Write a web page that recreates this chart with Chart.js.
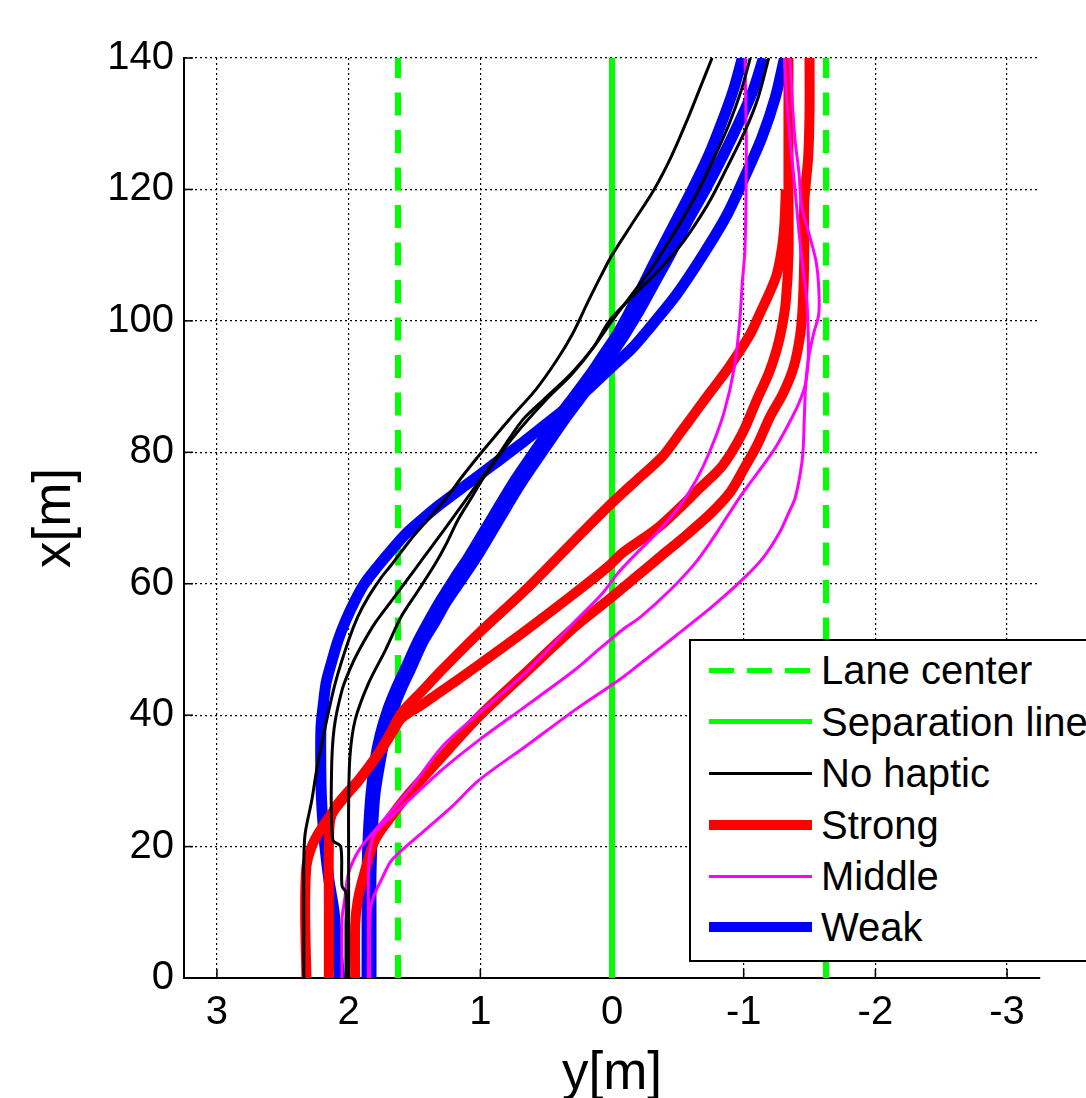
<!DOCTYPE html>
<html>
<head>
<meta charset="utf-8">
<title>Lateral position</title>
<script src="https://cdn.jsdelivr.net/npm/chart.js@4/dist/chart.umd.min.js"></script>
<style>
html, body { margin: 0; padding: 0; overflow: hidden; background: #fff; }
#wrap { position: relative; width: 1086px; height: 1098px; }
#legend { position: absolute; left: 689px; top: 639px; width: 440px; height: 323px; box-sizing: border-box;
  border: 2px solid #000; background: #fff; font-family: 'Liberation Sans', Arial, sans-serif; font-size: 40px; color: #000; }
#legend .row { position: absolute; left: 0; width: 100%; height: 50px; line-height: 50px; white-space: nowrap; }
#legend .sample { position: absolute; left: 18px; width: 103px; }
#legend .label { position: absolute; left: 130px; top: 0; }
</style>
</head>
<body>
<div id="wrap">
  <canvas id="chart" width="1086" height="1098"></canvas>
  <div id="legend"></div>
</div>
<script>
// each point: [distance x (m), lateral position y (m)]
const noHaptic1 = [[0,2.34],[10,2.34],[18,2.34],[22,2.33],[27,2.28],[32,2.24],[38,2.18],[45,2.1],[51.4,2.0],[55,1.93],[58,1.85],[61,1.75],[63,1.67],[66.7,1.53],[69.7,1.4],[73,1.26],[76.5,1.13],[80,0.99],[85,0.78],[89.5,0.58],[94,0.42],[98,0.3],[103,0.18],[107,0.08],[110,0.0],[115,-0.16],[120,-0.32],[125,-0.45],[131,-0.58],[135,-0.66],[140,-0.76]];
const noHaptic2 = [[0,2.02],[8,2.02],[13,2.02],[14,2.05],[20,2.06],[21,2.12],[31,2.13],[38,2.11],[43.8,2.05],[47,1.99],[49.9,1.92],[54,1.8],[57.5,1.67],[61,1.54],[64,1.43],[66.7,1.33],[69.7,1.22],[75,1.03],[80,0.85],[84.9,0.68],[88,0.52],[92,0.31],[96,0.14],[100,0.0],[104,-0.15],[108,-0.3],[112,-0.43],[116,-0.55],[120,-0.66],[125,-0.78],[130,-0.89],[135,-0.98],[140,-1.05]];
const noHaptic3 = [[0,2.0],[10,2.0],[20,2.0],[26,2.0],[33.7,1.99],[39.3,1.95],[44.8,1.85],[49.9,1.72],[55,1.6],[59,1.47],[63.1,1.34],[66,1.26],[69.7,1.17],[73,1.07],[76,0.98],[80,0.84],[84,0.68],[88,0.5],[92,0.3],[96,0.14],[100,0.02],[104,-0.17],[108,-0.37],[111.5,-0.52],[114.6,-0.63],[118.5,-0.75],[123.2,-0.87],[128.9,-1.01],[134,-1.11],[140,-1.19]];

const strong1 = [[0,2.15],[10,2.15],[20,2.15],[24,2.14],[26,2.1],[28,2.02],[30,1.93],[34,1.78],[37,1.69],[40.3,1.6],[43.5,1.45],[46.9,1.29],[52.5,1.01],[59,0.66],[66.7,0.28],[72.3,0.0],[76,-0.2],[79.3,-0.38],[83,-0.52],[86,-0.63],[89.5,-0.76],[93,-0.89],[98,-1.05],[101,-1.12],[104,-1.19],[107,-1.25],[111,-1.29],[115,-1.31],[120,-1.32]];
const strong2 = [[0,2.32],[10,2.33],[17,2.32],[20,2.28],[22,2.23],[25,2.13],[28,2.01],[30.1,1.92],[34.2,1.77],[37.3,1.67],[39.5,1.6],[41.5,1.45],[43.3,1.32],[47.4,1.03],[52.5,0.68],[58.6,0.28],[62.6,0.03],[64.7,-0.08],[68.7,-0.36],[74.8,-0.68],[78,-0.84],[82.9,-0.99],[88,-1.1],[92,-1.19],[95.6,-1.25],[99,-1.29],[103,-1.32],[110,-1.34],[120,-1.34],[130,-1.34],[140,-1.34]];
const strong3 = [[0,1.95],[8,1.95],[11.9,1.93],[16,1.88],[21,1.8],[24.5,1.68],[28.1,1.54],[33.7,1.29],[39.8,1.01],[46.4,0.66],[53.5,0.28],[57.5,0.03],[61,-0.18],[64,-0.36],[67.5,-0.57],[70.7,-0.75],[74,-0.9],[77.8,-1.01],[81,-1.1],[85.4,-1.2],[89,-1.3],[93,-1.38],[98,-1.43],[103,-1.45],[110,-1.46],[118,-1.46],[125,-1.49],[132,-1.5],[140,-1.5]];

const middle1 = [[0,2.05],[9,2.05],[11.9,2.03],[16,2.0],[19.5,1.92],[22.5,1.8],[28.6,1.54],[35.2,1.29],[40.3,1.01],[46.4,0.66],[50.5,0.46],[54.5,0.27],[58.6,0.07],[61.5,-0.04],[64.5,-0.18],[67.7,-0.34],[72,-0.52],[75.8,-0.64],[80,-0.74],[86,-0.85],[93,-0.93],[100,-0.97],[106,-0.99],[111,-1.01],[126,-1.02],[140,-1.01]];
const middle2 = [[0,1.85],[10,1.85],[15,1.85],[19,1.84],[22,1.8],[24.5,1.68],[27.1,1.54],[31.7,1.29],[36.2,1.01],[41.3,0.66],[46.9,0.28],[50,0.1],[53,-0.08],[55,-0.22],[59,-0.44],[63.1,-0.63],[67,-0.77],[70.7,-0.89],[74,-1.0],[77.8,-1.14],[81,-1.25],[85.4,-1.37],[88,-1.43],[90.5,-1.47],[94,-1.49],[98,-1.49],[103,-1.48],[108,-1.45],[113.5,-1.42],[120,-1.39],[126,-1.36],[133,-1.33],[140,-1.31]];
const middle3 = [[0,1.84],[8,1.84],[11,1.83],[12.9,1.8],[15,1.75],[18,1.67],[22.5,1.42],[26,1.22],[30.1,1.01],[35.2,0.66],[40.8,0.28],[45.3,-0.05],[48.4,-0.25],[52,-0.48],[56.5,-0.76],[61,-1.01],[64,-1.15],[67.7,-1.27],[70.7,-1.34],[73,-1.39],[76.8,-1.43],[80,-1.45],[85,-1.46],[90,-1.47],[94,-1.49],[98,-1.53],[101,-1.57],[105,-1.57],[109,-1.55],[113,-1.5],[117.4,-1.44],[122.5,-1.42],[127.5,-1.39],[133,-1.37],[140,-1.35]];

const weak1 = [[0,2.07],[5,2.09],[10,2.11],[15,2.15],[20,2.18],[25,2.2],[30,2.21],[38,2.21],[42,2.19],[45,2.17],[48,2.13],[51.4,2.08],[54.5,2.02],[57.5,1.95],[60,1.88],[62.6,1.78],[65,1.68],[67.7,1.56],[70,1.43],[72,1.31],[75,1.11],[78,0.91],[81,0.71],[84,0.52],[87,0.33],[90,0.16],[93,0.0],[96,-0.16],[100,-0.33],[104,-0.49],[110,-0.69],[116,-0.87],[122,-1.01],[128,-1.14],[134,-1.24],[140,-1.31]];
const weak2 = [[0,1.86],[10,1.86],[16,1.86],[22,1.85],[28,1.83],[33,1.8],[37,1.76],[41,1.7],[44,1.64],[47,1.57],[51,1.48],[54,1.4],[57.5,1.3],[61,1.19],[64,1.09],[68,0.97],[71.7,0.86],[75,0.76],[78,0.66],[81.5,0.54],[85,0.42],[88.5,0.29],[92,0.16],[95,0.06],[98,-0.04],[102,-0.15],[106,-0.25],[110,-0.35],[115,-0.48],[120,-0.61],[125,-0.73],[130,-0.83],[135,-0.92],[140,-0.99]];
const weak3 = [[0,1.83],[10,1.83],[16,1.83],[22,1.82],[28,1.8],[33,1.76],[37,1.72],[41,1.66],[44,1.6],[47,1.53],[51,1.44],[54,1.35],[57.5,1.25],[61,1.13],[64,1.03],[68,0.91],[71.7,0.8],[75,0.7],[78,0.6],[81.5,0.48],[85,0.36],[88.5,0.23],[92,0.1],[95,0.0],[98,-0.1],[102,-0.22],[106,-0.33],[110,-0.44],[115,-0.57],[120,-0.71],[125,-0.84],[130,-0.96],[135,-1.07],[140,-1.15]];

const laneCenters = [1.625, -1.625];
const separationLine = 0;
const distanceRange = [0, 140];
const legendLabels = ['Lane center', 'Separation line', 'No haptic', 'Strong', 'Middle', 'Weak'];

const GREEN = '#00ff00';
const styles = {
  'Lane center':     { color: GREEN, width: 6, dash: [23, 14.5], order: 5 },
  'Separation line': { color: GREEN, width: 6, dash: [], order: 5 },
  'No haptic':       { color: '#000000', width: 3, dash: [], order: 1 },
  'Strong':          { color: '#ff0000', width: 10, dash: [], order: 3 },
  'Middle':          { color: '#ff00ff', width: 3, dash: [], order: 2 },
  'Weak':            { color: '#0000ff', width: 11, dash: [], order: 4 }
};

Chart.defaults.font.family = "'Liberation Sans', Arial, sans-serif";
Chart.defaults.color = '#000';

function track(points, name) {
  var s = styles[name];
  return {
    label: name,
    data: points.map(p => ({ x: p[1], y: p[0] })),
    borderColor: s.color,
    borderWidth: s.width,
    borderDash: s.dash,
    order: s.order,
    showLine: true,
    pointRadius: 0,
    tension: points.length > 2 ? 0.3 : 0,
    fill: false
  };
}

function guide(offset, name) {
  return track(distanceRange.map(d => [d, offset]), name);
}

var datasets = [
  guide(laneCenters[0], 'Lane center'),
  guide(laneCenters[1], 'Lane center'),
  guide(separationLine, 'Separation line'),
  track(weak1, 'Weak'), track(weak2, 'Weak'), track(weak3, 'Weak'),
  track(strong1, 'Strong'), track(strong2, 'Strong'), track(strong3, 'Strong'),
  track(middle1, 'Middle'), track(middle2, 'Middle'), track(middle3, 'Middle'),
  track(noHaptic1, 'No haptic'), track(noHaptic2, 'No haptic'), track(noHaptic3, 'No haptic')
];

// matlab style tick marks pointing into the plot
const innerTicks = {
  id: 'innerTicks',
  beforeDatasetsDraw(chart) {
    const { ctx, chartArea, scales } = chart;
    ctx.save();
    ctx.strokeStyle = '#000';
    ctx.lineWidth = 1.5;
    scales.y.ticks.forEach(t => {
      const py = scales.y.getPixelForValue(t.value);
      ctx.beginPath(); ctx.moveTo(chartArea.left, py); ctx.lineTo(chartArea.left + 9, py); ctx.stroke();
    });
    scales.x.ticks.forEach(t => {
      const px = scales.x.getPixelForValue(t.value);
      ctx.beginPath(); ctx.moveTo(px, chartArea.bottom); ctx.lineTo(px, chartArea.bottom - 9); ctx.stroke();
    });
    ctx.restore();
  }
};

var myChart = new Chart(document.getElementById('chart').getContext('2d'), {
  type: 'scatter',
  data: { datasets: datasets },
  options: {
    responsive: false,
    animation: false,
    devicePixelRatio: 1,
    events: [],
    layout: { padding: { left: 0, right: 46, top: 58, bottom: 0 } },
    plugins: { legend: { display: false }, tooltip: { enabled: false } },
    scales: {
      x: {
        type: 'linear', position: 'bottom', reverse: true, min: -3.25, max: 3.25,
        ticks: { stepSize: 1, includeBounds: false, padding: 11, maxRotation: 0, font: { size: 40 } },
        grid: { color: '#000', lineWidth: 1.2, drawTicks: false },
        border: { color: '#000', width: 2, dash: [2, 3] },
        title: { display: true, text: 'y[m]', font: { size: 53, lineHeight: 0.9 }, padding: { top: 0, bottom: 0 } },
        afterFit: function (s) { s.height = 120; }
      },
      y: {
        type: 'linear', position: 'left', min: 0, max: 140,
        ticks: { stepSize: 20, padding: 10, font: { size: 40 } },
        grid: { color: '#000', lineWidth: 1.2, drawTicks: false },
        border: { color: '#000', width: 2, dash: [2, 3] },
        title: { display: true, text: 'x[m]', font: { size: 53, lineHeight: 0.9 }, padding: { top: 32, bottom: 0 } },
        afterFit: function (s) { s.width = 184; }
      }
    }
  },
  plugins: [innerTicks]
});

// legend box drawn as html, styles taken from the datasets
var legendBox = document.getElementById('legend');
legendLabels.forEach(function (name, i) {
  var s = styles[name];
  var row = document.createElement('div');
  row.className = 'row';
  row.style.top = (29.4 + 51.4 * i - 25) + 'px';
  var lw = (s.color === GREEN) ? 5 : Math.min(s.width, 10);
  var sample = document.createElement('div');
  sample.className = 'sample';
  sample.style.height = lw + 'px';
  sample.style.top = (25 - lw / 2) + 'px';
  if (s.dash.length) {
    sample.style.background = 'repeating-linear-gradient(90deg, ' + s.color + ' 0 25px, transparent 25px 38px)';
  } else {
    sample.style.background = s.color;
  }
  var label = document.createElement('div');
  label.className = 'label';
  label.textContent = name;
  row.appendChild(sample);
  row.appendChild(label);
  legendBox.appendChild(row);
});
</script>
</body>
</html>
